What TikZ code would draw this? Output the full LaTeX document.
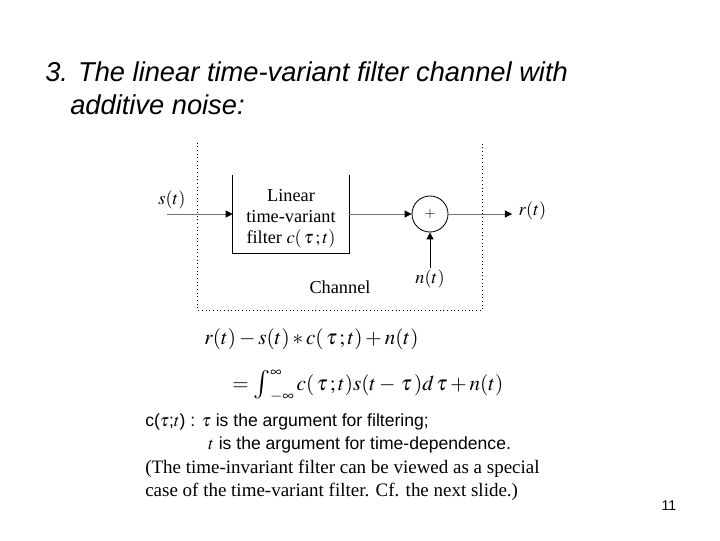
\documentclass[tikz,border=0pt]{standalone}
\usepackage{mathptmx}
\usepackage{fontspec}
\setmainfont{Liberation Serif}
\setsansfont{Liberation Sans}
\usetikzlibrary{arrows.meta,positioning}
\newcommand{\bigint}{\mathop{\vcenter{\hbox{\scalebox{1.35}{$\int$}}}}\nolimits}

\begin{document}
\begin{tikzpicture}[x=0.025cm,y=-0.025cm,
    sig/.style={-{Triangle[length=5pt,width=5pt,color=black]},
                color=black!55,line width=0.7pt},
    lbl/.style={font=\fontsize{13}{15}\selectfont,inner sep=1pt},
    note/.style={anchor=west,inner sep=0pt,font=\sffamily\fontsize{12.5}{15}\selectfont},
    expl/.style={anchor=west,inner sep=0pt,font=\fontsize{13.5}{16}\selectfont}]
    \useasboundingbox (0,0) rectangle (720,540);

    % title
    \node[anchor=west,inner sep=0pt,font=\sffamily\itshape\fontsize{19.4}{22}\selectfont]
      (ttl1) at (45,72) {3. The linear time-variant filter channel with};
    \node[anchor=west,inner sep=0pt,font=\sffamily\itshape\fontsize{19.4}{22}\selectfont]
      (ttl2) at (70,105) {additive noise:};

    % channel frame (open on top)
    \node[minimum width=7.1cm,minimum height=4.175cm,inner sep=0pt]
      (chan) at (340,226.5) {};
    \draw[dotted,line width=0.6pt] (chan.north west) -- (chan.south west)
      -- (chan.south east) -- (chan.north east);
    \node[lbl] (chtxt) at (340,287) {Channel};

    % filter block (open on top)
    \node[minimum width=2.9cm,minimum height=1.95cm,inner sep=0pt]
      (filt) at (291,214) {};
    \draw[line width=0.6pt] (filt.north west) -- (filt.south west)
      -- (filt.south east) -- (filt.north east);
    \node[align=center,inner sep=0pt,font=\fontsize{13}{15}\selectfont]
      (ftxt) at (291,219) {Linear\\time-variant\\filter $c(\,\tau\,;t)$};

    % adder
    \node[circle,draw,line width=0.6pt,minimum size=0.9cm,inner sep=0pt]
      (sum) at (430,214) {$+$};

    % signals
    \coordinate (sin) at (167,214);
    \coordinate (rout) at (512,214);
    \node[lbl] (slbl) at (172,200) {$s(t)$};
    \node[lbl,anchor=west] (rlbl) at (517,211) {$r(t)$};
    \node[lbl] (noise) at (430,279) {$n(t)$};

    \draw[sig] (sin) -- (filt.west);
    \draw[sig] (filt.east) -- (sum.west);
    \draw[sig] (sum.east) -- (rout);
    \draw[sig,color=black] (noise.north) -- (sum.south);

    % equations
    \node[anchor=west,inner sep=0pt,font=\fontsize{15}{18}\selectfont]
      (eq1) at (204,339) {$r(t) - s(t)*c(\,\tau\,;t)+n(t)$};
    \node[anchor=west,inner sep=0pt,font=\fontsize{15}{18}\selectfont]
      (eq2) at (232,386) {$=\bigint_{-\infty}^{\infty} c(\,\tau\,;t)s(t-\,\tau\,)d\,\tau+n(t)$};

    % explanation
    \node[note] (n1) at (145,422) {c($\tau$;$t$) : $\tau$ is the argument for filtering;};
    \node[note] (n2) at (208,445) {$t$ is the argument for time-dependence.};
    \node[expl] (n3) at (145,469) {(The time-invariant filter can be viewed as a special};
    \node[expl] (n4) at (145,492) {case of the time-variant filter. Cf. the next slide.)};

    \node[inner sep=0pt,font=\sffamily\fontsize{10}{12}\selectfont] (pg) at (669,506) {11};
  \end{tikzpicture}
\end{document}
